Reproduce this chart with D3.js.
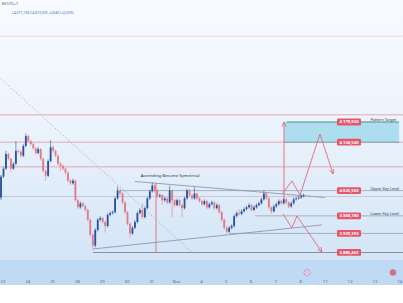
<!DOCTYPE html>
<html><head><meta charset="utf-8">
<script src="https://cdn.jsdelivr.net/npm/d3@7"></script>
<style>html,body{margin:0;padding:0;background:#fff;}svg{display:block;font-family:"Noto Sans",Roboto,sans-serif;}</style>
</head><body>
<script>
// ---------- DATA ----------
const dayLabels = ["23","24","25","28","29","30","31","Nov","4","5","6","7","8","11","12","13","14"];
const candlesPerDay = 10;
const firstOpen = 4010;
const closes = [4057,4075,4108,4097,4075,4086,4115,4113,4104,4126,4148,4137,4130,4121,4110,4119,4097,4070,4059,4092,
4123,4115,4104,4086,4081,4075,4066,4048,4042,4048,4004,3988,3997,3991,3982,3960,3926,3902,3937,3960,
3964,3955,3946,3971,3975,3977,4008,4026,4019,3999,3977,3951,3929,3942,3955,3975,3982,3966,3986,4008,
4024,4037,4026,4013,4015,4004,4008,3999,4026,4004,3993,4004,3993,3986,4008,4026,4015,4008,4019,4008,
4002,3995,4002,3988,3995,3999,3986,3993,3977,3960,3942,3933,3942,3946,3968,3975,3973,3979,3984,3988,
3993,3982,3988,3993,3997,4006,4019,4008,3988,3979,3990,3995,4002,3997,4006,3999,3990,3997,4006,4008,
4010,4013,4015];
const highs = [4061,4079,4115,4111,4099,4090,4137,4119,4116,4130,4154,4151,4140,4133,4124,4124,4121,4100,4073,4096,
4139,4127,4118,4107,4090,4085,4078,4069,4052,4052,4050,4007,4001,4000,3994,3985,3963,3929,3941,3964,
3968,3967,3958,3975,3979,3981,4012,4035,4030,4022,4002,3980,3954,3946,3959,3979,3986,3997,3990,4012,
4028,4044,4040,4029,4019,4018,4012,4011,4037,4029,4007,4008,4007,3996,4012,4030,4029,4018,4033,4022,
4011,4005,4006,4005,3999,4003,4002,3997,3996,3980,3963,3945,3946,3950,3972,3979,3984,3983,3988,3992,
3997,3996,3992,3997,4001,4010,4026,4022,4011,3991,3994,3999,4006,4005,4010,4009,4002,4001,4010,4012,
4014,4017,4019];
const lows = [4004,4054,4072,4093,4068,4072,4083,4108,4100,4101,4123,4133,4126,4117,4106,4107,4093,4066,4048,4056,
4089,4111,4100,4082,4070,4071,4062,4044,4038,4039,4000,3984,3985,3987,3978,3956,3922,3893,3898,3933,
3956,3951,3931,3943,3968,3972,3974,4005,4015,3995,3973,3947,3920,3926,3939,3952,3972,3962,3963,3983,
4005,4021,4022,4009,4009,3993,4000,3995,3996,3966,3989,3990,3989,3966,3983,4005,4011,4004,4005,4004,
3998,3991,3992,3984,3985,3992,3982,3983,3973,3956,3938,3929,3930,3939,3943,3965,3969,3970,3976,3981,
3985,3978,3979,3985,3990,3994,4003,4004,3984,3973,3976,3987,3992,3993,3994,3995,3986,3987,3994,4003,
4005,4007,4010];

const levelPrices = [4179.93, 4134.54, 4025.56, 3968.78, 3929.35, 3886.465];
const levelLabels = ["4.179,930","4.134,540","4.025,560","3.968,780","3.929,350","3.886,465"];
const levelCaptions = ["Pattern Target","","Upper Key Level","Lower Key Level","",""];
const redLinePrices = [4373, 4196, 4134.54, 4079];
const grayLines = [ {p:4012.3, from:-0.2}, {p:4025.56, from:4.72}, {p:3968.78, from:10.16}, {p:3929.35, from:9.15}, {p:3886.465, from:3.63} ];
const triUpper = [[5.32,4046.1],[12.98,4010.1]];
const triLower = [[3.63,3894.3],[12.86,3948.3]];
const dotted = [[-0.2,4283],[7.74,3880.7]];
const measureLine = [[6.17,4042.7],[6.17,3886.465]];
const targetArrow = [[11.33,4008],[11.33,4179.93]];
const targetBox = {t0:11.33, t1:15.97, p0:4134.54, p1:4179.93};
const upPath = [[11.29,4020.2],[11.65,4047.2],[11.98,4015.7],[12.78,4152.9],[13.31,4063.0]];
const downPath = [[11.29,3973.0],[11.65,3941.5],[11.85,3968.5],[12.86,3887.5]];

// ---------- CHART ----------
const W = 403, H = 303;
const svg = d3.select("body").append("svg").attr("width", W).attr("height", H);
const defs = svg.append("defs");
const grad = defs.append("linearGradient").attr("id","bg").attr("x1",0).attr("y1",0).attr("x2",0).attr("y2",1);
grad.append("stop").attr("offset","0%").attr("stop-color","#f8fbff");
grad.append("stop").attr("offset","45%").attr("stop-color","#edf4fc");
grad.append("stop").attr("offset","100%").attr("stop-color","#d3e5f7");
const arrow = defs.append("marker").attr("id","arr").attr("viewBox","0 0 10 10").attr("refX",9).attr("refY",5)
  .attr("markerWidth",6).attr("markerHeight",6).attr("orient","auto-start-reverse");
arrow.append("path").attr("d","M0,1 L9,5 L0,9").attr("fill","none").attr("stroke","#e0606e").attr("stroke-width",1.3);

svg.append("rect").attr("x",0).attr("y",0).attr("width",W).attr("height",260).attr("fill","url(#bg)");

const x = d3.scaleLinear().domain([0, 16]).range([3, 3 + 16*24.8]);
const y = d3.scaleLinear().domain([3869.5, 4454.3]).range([260, 0]);
const tOf = i => i / candlesPerDay - 0.08;

const candles = closes.map((c, i) => ({
  t: tOf(i), o: i === 0 ? firstOpen : closes[i-1], c, h: highs[i], l: lows[i]
}));

const line = d3.line().x(d => x(d[0])).y(d => y(d[1]));

svg.append("g").selectAll("line").data(redLinePrices).join("line")
  .attr("x1",0).attr("x2",W).attr("y1",d=>y(d)).attr("y2",d=>y(d))
  .attr("stroke",(d,i)=> i===0 ? "#f0c4c8" : "#e4959e").attr("stroke-width",0.8);

svg.append("rect").attr("x",x(targetBox.t0)).attr("y",y(targetBox.p1))
  .attr("width",x(targetBox.t1)-x(targetBox.t0)).attr("height",y(targetBox.p0)-y(targetBox.p1))
  .attr("fill","#a6dbee").attr("opacity",0.9);
svg.append("line").attr("x1",x(targetBox.t0)+3).attr("x2",x(targetBox.t1)).attr("y1",y(targetBox.p1)).attr("y2",y(targetBox.p1))
  .attr("stroke","#3f7f86").attr("stroke-width",0.9);
svg.append("line").attr("x1",x(targetBox.t0)).attr("x2",x(targetBox.t1)).attr("y1",y(targetBox.p0)).attr("y2",y(targetBox.p0))
  .attr("stroke","#3f7f86").attr("stroke-width",0.6);

svg.append("g").selectAll("line").data(grayLines).join("line")
  .attr("x1",d=>x(d.from)).attr("x2",W).attr("y1",d=>y(d.p)).attr("y2",d=>y(d.p))
  .attr("stroke",(d,i)=> i===4 ? "#8a8f99" : (i===0 ? "#c9bcc8" : "#9aa0aa")).attr("stroke-width",(d,i)=> i===4 ? 1.1 : 0.8);

svg.append("path").attr("d", line(dotted)).attr("fill","none").attr("stroke","#9ea6b3")
  .attr("stroke-width",0.8).attr("stroke-dasharray","1.5,2");

svg.append("path").attr("d", line(triUpper)).attr("stroke","#8d97b5").attr("stroke-width",0.9).attr("fill","none");
svg.append("path").attr("d", line(triLower)).attr("stroke","#8d97b5").attr("stroke-width",0.9).attr("fill","none");

const cw = 1.8;
const cg = svg.append("g");
cg.selectAll("line").data(candles).join("line")
  .attr("x1",d=>x(d.t)).attr("x2",d=>x(d.t)).attr("y1",d=>y(d.h)).attr("y2",d=>y(d.l))
  .attr("stroke",d=>d.c>=d.o ? "#2c4f9e" : "#e27883").attr("stroke-width",0.6);
cg.selectAll("rect").data(candles).join("rect")
  .attr("x",d=>x(d.t)-cw/2).attr("width",cw)
  .attr("y",d=>y(Math.max(d.o,d.c))).attr("height",d=>Math.max(0.8, Math.abs(y(d.o)-y(d.c))))
  .attr("fill",d=>d.c>=d.o ? "#2c4f9e" : "#e27883");

svg.append("path").attr("d", line(measureLine)).attr("stroke","#e06a78").attr("stroke-width",0.9).attr("fill","none");
svg.append("path").attr("d", line(targetArrow)).attr("stroke","#e06a78").attr("stroke-width",0.9).attr("fill","none").attr("marker-end","url(#arr)");
svg.append("path").attr("d", line(upPath)).attr("stroke","#e06a78").attr("stroke-width",0.9).attr("fill","none").attr("marker-end","url(#arr)");
svg.append("path").attr("d", line(downPath)).attr("stroke","#e06a78").attr("stroke-width",0.9).attr("fill","none").attr("marker-end","url(#arr)");

svg.append("text").attr("x",x(5.55)).attr("y",y(4057)).attr("font-size",4.2).attr("fill","#333")
  .text("Ascending Become Symetrical");

const lg = svg.append("g");
levelPrices.forEach((p,i)=>{
  const yy = y(p);
  lg.append("rect").attr("x",337).attr("y",yy-3.4).attr("width",24).attr("height",6.8).attr("rx",1.2).attr("fill","#e4566a");
  lg.append("text").attr("x",349).attr("y",yy+1.5).attr("text-anchor","middle").attr("font-size",4.2)
    .attr("font-weight","bold").attr("fill","#fff").text(levelLabels[i]);
  if (levelCaptions[i]) lg.append("text").attr("x",370.5).attr("y",yy-0.5).attr("font-size",3.8).attr("fill","#333").text(levelCaptions[i]);
});

svg.append("rect").attr("x",0).attr("y",260).attr("width",W).attr("height",25).attr("fill","#bfdaf5");
svg.append("g").selectAll("text").data(dayLabels).join("text")
  .attr("x",(d,i)=>x(i)).attr("y",282.5).attr("text-anchor","middle").attr("font-size",4.2).attr("fill","#666").text(d=>d);
svg.append("circle").attr("cx",307).attr("cy",272.5).attr("r",3).attr("fill","#f4e8f4").attr("stroke","#c07cc4").attr("stroke-width",0.8);
svg.append("text").attr("x",307).attr("y",274).attr("text-anchor","middle").attr("font-size",3.8).attr("fill","#a050a8").text("D");
svg.append("circle").attr("cx",393).attr("cy",272.5).attr("r",3.2).attr("fill","#d86a7a").attr("stroke","#b9a6c8").attr("stroke-width",0.6);

svg.append("text").attr("x",1).attr("y",5).attr("font-size",3.6).attr("fill","#444").text("·60·UTC+7");
svg.append("text").attr("x",12).attr("y",14).attr("font-size",3.4).attr("fill","#3a62b8").text("L4.011,130  C4.013,335  +0,645 (+0,02%)");
</script>
</body></html>
